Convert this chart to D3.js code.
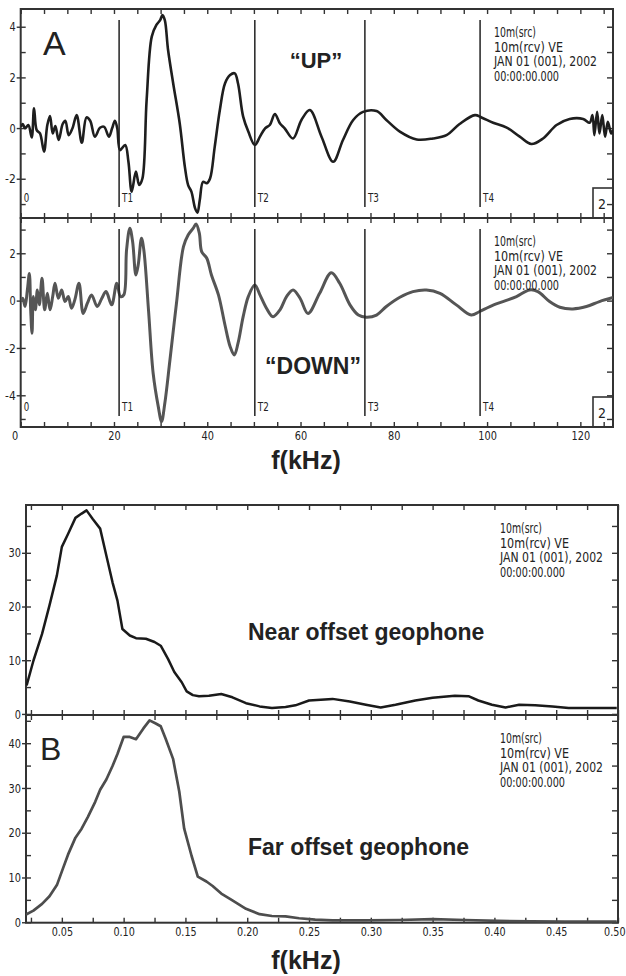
<!DOCTYPE html>
<html>
<head>
<meta charset="utf-8">
<script src="https://cdn.jsdelivr.net/npm/d3@7"></script>
<style>
  body { margin: 0; background: #fff; }
  .tick line { stroke: #333; stroke-width: 1.4; }
  .tick text { font-family: "Liberation Sans Narrow", "DejaVu Sans Condensed", "Liberation Sans", sans-serif; font-size: 13px; fill: #222; }
</style>
</head>
<body>
<script>
// panel A: waveform (x in kHz as labelled on the figure)
var upF = [0,0.43,0.93,1.64,2.36,2.86,3.43,4.14,5.0,5.71,6.29,6.86,7.43,8.14,9.0,9.57,10.3,11.1,12.0,13.1,14.1,14.9,15.9,17.0,17.9,18.9,19.6,20.2,20.7,21.3,22.4,23.1,23.8,24.7,25.4,26.1,27.0,28.1,29.1,29.9,30.4,30.9,31.6,32.7,34.1,35.2,35.9,36.6,37.4,37.9,38.4,39.1,39.9,40.6,41.6,42.7,43.8,44.9,45.9,46.6,47.7,48.8,50.2,51.3,52.4,53.4,54.5,55.6,56.6,58.4,60.2,62.0,64.5,67.0,69.1,71.3,73.4,76.3,78.4,81.3,84.9,88.4,91.3,94.1,97.4,98.8,101.3,104.1,107.0,109.5,112.0,114.9,117.7,120.6,122.0,122.6,123.0,123.6,124.1,124.7,125.3,125.9,126.6,127.0];
var upV = [0.05,0.16,-0.01,0.12,-0.37,0.78,-0.08,-0.21,-0.93,0.12,0.47,-0.21,0.08,-0.47,0.16,0.29,-0.28,-0.01,0.51,-0.58,0.42,0.29,-0.34,0.01,0.05,-0.34,-0.01,0.29,-0.01,-0.87,-0.67,-1.33,-2.51,-1.72,-2.25,-1.99,1.1,3.61,4.07,4.26,4.46,4.26,3.08,1.76,0.18,-1.53,-2.25,-2.51,-3.17,-3.34,-2.84,-2.12,-2.18,-1.99,-0.74,0.71,1.76,2.09,2.16,1.76,0.45,-0.14,-0.67,-0.34,-0.01,0.12,0.55,0.18,-0.01,-0.41,0.32,0.71,-0.34,-1.33,-0.47,0.32,0.64,0.67,0.32,-0.14,-0.45,-0.41,-0.28,0.16,0.51,0.42,0.21,0.03,-0.34,-0.63,-0.41,0.12,0.36,0.36,0.21,0.51,-0.28,0.64,-0.21,0.51,-0.34,0.25,-0.21,-0.08];

var downF = [0,0.43,0.93,1.43,1.86,2.14,2.43,2.71,3.14,3.57,4.0,4.57,5.14,5.71,6.29,6.86,7.36,8.07,8.79,9.5,10.2,10.9,11.6,12.5,13.4,14.3,15.2,16.4,17.4,18.3,19.5,20.6,21.4,22.1,22.7,23.4,24.0,24.7,25.2,25.9,26.4,27.4,28.4,29.5,30.2,30.9,32.0,33.4,34.9,35.9,37.0,37.6,38.3,38.8,39.9,40.9,42.4,43.8,44.9,45.8,46.6,47.7,48.8,50.2,51.3,52.7,54.1,55.6,57.0,58.4,59.9,61.6,64.1,66.6,68.4,70.6,72.4,74.1,76.3,78.4,81.3,84.1,87.0,89.9,93.4,96.6,98.4,100.6,103.4,106.3,109.1,110.9,113.4,115.6,118.4,121.3,124.1,127.0];
var downV = [-0.04,0.1,-0.25,0.45,1.15,-0.39,-1.38,0.17,-0.39,0.45,-0.18,0.94,-0.39,0.31,-0.39,0.17,0.73,0.10,0.45,-0.04,0.17,-0.32,0.03,0.73,-0.54,-0.11,0.24,-0.25,0.10,0.38,-0.18,0.73,0.17,0.24,2.14,3.06,2.49,1.08,1.51,2.63,2.14,-0.39,-3.07,-4.48,-5.11,-4.34,-2.51,-0.11,2.28,2.77,3.06,3.24,2.85,2.07,1.79,1.08,0.24,-1.03,-1.94,-2.30,-1.80,-0.68,0.17,0.66,0.24,-0.32,-0.68,-0.39,0.17,0.45,0.10,-0.54,0.31,1.18,0.73,-0.18,-0.61,-0.70,-0.61,-0.25,0.14,0.38,0.45,0.31,-0.18,-0.61,-0.46,-0.25,-0.04,0.17,0.45,0.38,-0.04,-0.28,-0.35,-0.25,-0.04,0.13];

var pickNames = ["0", "T1", "T2", "T3", "T4"];
var pickTimes = [0, 21.1, 50.2, 73.8, 98.5];

// panel B: amplitude spectra
var nearF = [0.0215,0.027,0.034,0.040,0.046,0.050,0.055,0.061,0.066,0.070,0.075,0.081,0.086,0.091,0.095,0.099,0.105,0.110,0.118,0.125,0.130,0.136,0.141,0.147,0.151,0.156,0.161,0.169,0.179,0.188,0.199,0.210,0.220,0.231,0.239,0.250,0.269,0.283,0.296,0.308,0.320,0.336,0.350,0.368,0.379,0.387,0.398,0.409,0.420,0.433,0.447,0.460,0.476,0.499];
var nearV = [5.3,9.9,14.9,20.2,25.8,31.1,33.5,36.5,37.3,37.9,36.3,34.5,29.5,24.5,21.1,15.8,14.6,14.1,14.0,13.4,12.7,10.2,7.8,5.9,4.2,3.5,3.3,3.4,3.7,3.1,2.0,1.4,1.1,1.3,1.6,2.5,2.8,2.3,1.7,1.2,1.7,2.5,3.0,3.4,3.3,2.5,1.7,1.2,1.7,1.6,1.4,1.1,1.1,1.1];

var farF = [0.021,0.027,0.034,0.040,0.046,0.051,0.055,0.061,0.066,0.071,0.077,0.081,0.086,0.091,0.095,0.100,0.105,0.110,0.116,0.121,0.126,0.130,0.134,0.140,0.145,0.149,0.155,0.160,0.167,0.172,0.179,0.188,0.199,0.210,0.220,0.231,0.242,0.255,0.269,0.296,0.323,0.350,0.376,0.403,0.430,0.457,0.499];
var farV = [1.7,2.6,4.1,5.8,8.3,12.1,15.1,18.9,20.9,23.5,26.9,29.6,31.9,34.9,37.6,41.4,41.4,40.9,43.3,45.1,44.4,43.8,41.0,36.5,29.2,20.9,14.8,10.2,9.1,8.1,6.4,4.9,3.0,1.8,1.4,1.3,0.9,0.6,0.4,0.4,0.5,0.7,0.5,0.3,0.2,0.15,0.15];

var infoLines = ["10m(src)", "10m(rcv)   VE", "JAN 01 (001), 2002", "00:00:00.000"];

var narrow = "'Liberation Sans Narrow', 'DejaVu Sans Condensed', 'Liberation Sans', sans-serif";
var sans = "'Liberation Sans', Arial, sans-serif";

var svg = d3.select("body").append("svg")
    .attr("width", 626)
    .attr("height", 976);

svg.append("rect").attr("width", 626).attr("height", 976).attr("fill", "#fff");

// squeeze a label to the narrow plotter lettering
var squeeze = function (s) {
    var w = 0;
    for (var i = 0; i < s.length; i++) {
        var c = s[i];
        w += c === "." ? 2.8 : (c === "-" || c === "\u2212") ? 4.5 : 6.2;
    }
    return w;
};
var narrowTicks = function (g) {
    g.selectAll("text").each(function () {
        var t = d3.select(this), s = t.text();
        if (s) t.attr("textLength", squeeze(s)).attr("lengthAdjust", "spacingAndGlyphs");
    });
};

var clipId = 0;

// one SAC-style box: frame, inward ticks on four sides, trace
var drawBox = function (o) {
    var x = o.x, y = o.y;
    var left = x.range()[0], right = x.range()[1];
    var top = y.range()[1], bottom = y.range()[0];

    var xAxis = d3.axisBottom(x).tickValues(o.xTicks).tickSizeInner(-5).tickSizeOuter(0).tickPadding(4)
        .tickFormat(function (d) { return o.xLabel && o.xLabel(d) ? o.xFmt(d) : ""; });
    var gx = svg.append("g").attr("transform", "translate(0," + bottom + ")").call(xAxis);
    narrowTicks(gx);
    if (o.xLabel) {
        gx.selectAll("text").filter(function (d) { return d === 0; }).attr("dx", -6);
        // last label would run past the page edge
        gx.selectAll("text").filter(function (d) { return x(d) + squeeze(o.xFmt(d)) / 2 > 625; })
            .attr("text-anchor", "end").attr("x", function (d) { return 625 - x(d); });
    }

    svg.append("g").attr("transform", "translate(0," + top + ")")
        .call(d3.axisTop(x).tickValues(o.xTicks).tickSizeInner(-5).tickSizeOuter(0).tickFormat(""));

    svg.append("g").attr("transform", "translate(" + left + ",0)")
        .call(d3.axisLeft(y).tickValues(o.yTicks).tickSizeInner(-5).tickSizeOuter(0).tickFormat(""));

    var gy = svg.append("g").attr("transform", "translate(" + left + ",0)")
        .call(d3.axisLeft(y).tickValues(o.yMajors).tickSizeInner(4).tickSizeOuter(0).tickPadding(1)
            .tickFormat(function (d) { return d < 0 ? "-" + (-d) : "" + d; }));
    narrowTicks(gy);

    svg.append("g").attr("transform", "translate(" + right + ",0)")
        .call(d3.axisRight(y).tickValues(o.yTicks).tickSizeInner(-6).tickSizeOuter(0).tickFormat(""));

    svg.selectAll(".domain").remove();

    svg.append("rect")
        .attr("x", left).attr("y", top)
        .attr("width", right - left).attr("height", bottom - top)
        .attr("fill", "none").attr("stroke", "#333").attr("stroke-width", 2);

    clipId++;
    svg.append("clipPath").attr("id", "c" + clipId).append("rect")
        .attr("x", left).attr("y", top).attr("width", right - left).attr("height", bottom - top);

    var pts = o.f.map(function (f, i) { return [f, o.v[i]]; });
    var line = d3.line()
        .x(function (d) { return x(d[0]); })
        .y(function (d) { return y(d[1]); })
        .curve(o.smooth ? d3.curveCatmullRom.alpha(0.5) : d3.curveLinear);

    svg.append("path")
        .attr("d", line(pts))
        .attr("clip-path", "url(#c" + clipId + ")")
        .style("stroke", o.color)
        .style("stroke-width", o.width)
        .style("stroke-linejoin", "round")
        .style("fill", "none");

    // header block in the upper right corner
    var widths = [42, 69, 103, 65];
    infoLines.forEach(function (s, i) {
        svg.append("text")
            .attr("x", o.infoX).attr("y", top + 28 + i * 14.5)
            .attr("textLength", widths[i]).attr("lengthAdjust", "spacingAndGlyphs")
            .style("font-family", narrow).style("font-size", "14px").style("fill", "#222")
            .text(s);
    });

    if (o.picks) {
        pickTimes.forEach(function (t, i) {
            if (t > 0) {
                svg.append("line")
                    .attr("x1", x(t)).attr("x2", x(t))
                    .attr("y1", top + 11).attr("y2", bottom - 11)
                    .attr("stroke", "#222").attr("stroke-width", 1.5);
            }
            svg.append("text")
                .attr("x", x(t) + 3).attr("y", bottom - 16)
                .attr("textLength", pickNames[i].length * 5.5).attr("lengthAdjust", "spacingAndGlyphs")
                .style("font-family", narrow).style("font-size", "13px").style("fill", "#222")
                .text(pickNames[i]);
        });
        svg.append("rect")
            .attr("x", right - 20).attr("y", bottom - 30)
            .attr("width", 20).attr("height", 30)
            .attr("fill", "none").attr("stroke", "#333").attr("stroke-width", 1.6);
        svg.append("text")
            .attr("x", right - 11).attr("y", bottom - 9)
            .attr("text-anchor", "middle")
            .style("font-family", narrow).style("font-size", "14px").style("fill", "#222")
            .text("2");
    }
};

var range = function (a, b, s) { return d3.range(0, Math.round((b - a) / s) + 1).map(function (i) { return +(a + i * s).toFixed(4); }); };

// ---- panel A
var xA = d3.scaleLinear().domain([0, 127]).range([20.7, 613]);

drawBox({
    x: xA, y: d3.scaleLinear().domain([-3.55, 4.7]).range([218, 9]),
    xTicks: range(0, 125, 5), yTicks: range(-3, 4, 1), yMajors: [-2, 0, 2, 4],
    f: upF, v: upV, smooth: true, color: "#1e1e1e", width: 2.6, infoX: 494, picks: true
});
drawBox({
    x: xA, y: d3.scaleLinear().domain([-5.34, 3.49]).range([427, 218]),
    xTicks: range(0, 125, 5), yTicks: range(-5, 3, 1), yMajors: [-4, -2, 0, 2],
    xLabel: function (d) { return d % 20 === 0; }, xFmt: d3.format("d"),
    f: downF, v: downV, smooth: true, color: "#555", width: 3, infoX: 494, picks: true
});

// ---- panel B
var xB = d3.scaleLinear().domain([0.021, 0.5]).range([26, 618]);

drawBox({
    x: xB, y: d3.scaleLinear().domain([-0.2, 38.9]).range([715, 505]),
    xTicks: range(0.025, 0.5, 0.025), yTicks: range(0, 35, 5), yMajors: [0, 10, 20, 30],
    f: nearF, v: nearV, smooth: false, color: "#1a1a1a", width: 2.5, infoX: 500
});
drawBox({
    x: xB, y: d3.scaleLinear().domain([-0.1, 46.3]).range([922.7, 715]),
    xTicks: range(0.025, 0.5, 0.025), yTicks: range(0, 45, 5), yMajors: [0, 10, 20, 30, 40],
    xLabel: function (d) { return Math.round(d * 1000) % 50 === 0; }, xFmt: d3.format(".2f"),
    f: farF, v: farV, smooth: false, color: "#4d4d4d", width: 2.7, infoX: 500
});

// annotations
var label = function (s, x, y, size, weight, anchor) {
    svg.append("text")
        .attr("x", x).attr("y", y)
        .attr("text-anchor", anchor || "start")
        .style("font-family", sans).style("font-size", size + "px")
        .style("font-weight", weight).style("fill", "#222")
        .text(s);
};

label("A", 43, 55, 34, "normal");
label("\u201cUP\u201d", 316, 68, 22, "bold", "middle");
label("\u201cDOWN\u201d", 313, 374, 23, "bold", "middle");
label("f(kHz)", 306, 469, 25, "bold", "middle");
label("B", 40, 760, 32, "normal");
label("Near offset geophone", 248, 640, 23, "bold");
label("Far offset geophone", 248, 855, 23, "bold");
label("f(kHz)", 306, 969, 25, "bold", "middle");
</script>
</body>
</html>
